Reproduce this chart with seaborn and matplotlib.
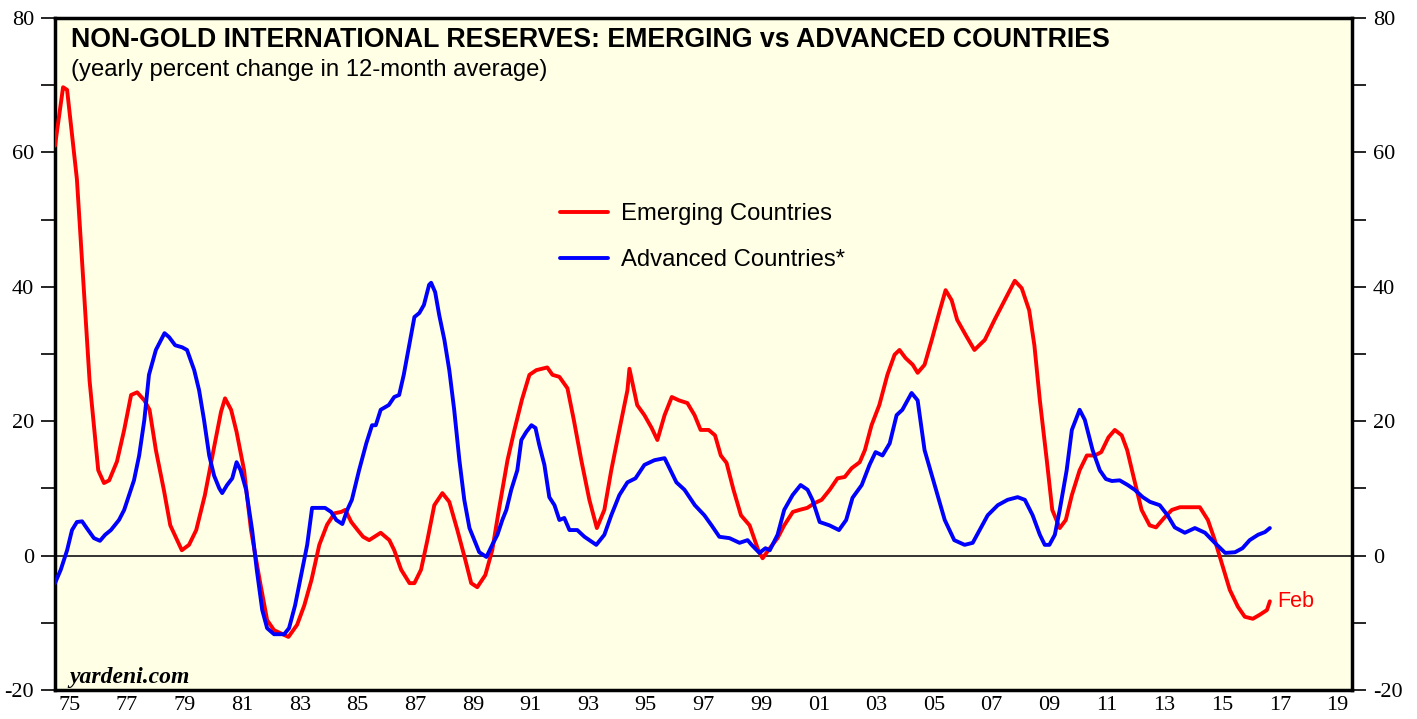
import numpy as np
import pandas as pd
import matplotlib
matplotlib.use("Agg")
import matplotlib.pyplot as plt
import seaborn as sns

# ---- data ----
em_years = [1975.0, 1975.28, 1975.42, 1975.76, 1976.2, 1976.5, 1976.7, 1976.88, 1977.15, 1977.4,
            1977.64, 1977.85, 1978.1, 1978.28, 1978.5, 1978.78, 1979.0, 1979.4, 1979.65, 1979.9,
            1980.2, 1980.5, 1980.76, 1980.9, 1981.11, 1981.3, 1981.56, 1981.8, 1982.1, 1982.36,
            1982.6, 1982.95, 1983.1, 1983.4, 1983.65, 1983.9, 1984.17, 1984.44, 1984.7, 1984.93,
            1985.07, 1985.28, 1985.5, 1985.69, 1985.9, 1986.08, 1986.3, 1986.6, 1986.77, 1987.01,
            1987.3, 1987.47, 1987.7, 1987.92, 1988.16, 1988.44, 1988.68, 1988.96, 1989.24, 1989.44,
            1989.65, 1989.93, 1990.17, 1990.4, 1990.7, 1990.94, 1991.2, 1991.46, 1991.7, 1992.08,
            1992.26, 1992.5, 1992.78, 1993.0, 1993.26, 1993.54, 1993.8, 1994.06, 1994.3, 1994.58,
            1994.86, 1994.93, 1995.2, 1995.45, 1995.7, 1995.9, 1996.15, 1996.4, 1996.65, 1996.94,
            1997.19, 1997.4, 1997.68, 1997.9, 1998.1, 1998.3, 1998.54, 1998.8, 1999.1, 1999.4,
            1999.55, 1999.8, 2000.07, 2000.3, 2000.6, 2000.83, 2001.1, 2001.35, 2001.6, 2001.88,
            2002.15, 2002.4, 2002.64, 2002.92, 2003.1, 2003.33, 2003.6, 2003.88, 2004.13, 2004.3,
            2004.51, 2004.76, 2004.93, 2005.17, 2005.42, 2005.7, 2005.9, 2006.11, 2006.3, 2006.6,
            2006.9, 2007.26, 2007.6, 2007.95, 2008.3, 2008.54, 2008.8, 2008.98, 2009.17, 2009.41,
            2009.6, 2009.86, 2010.07, 2010.28, 2010.55, 2010.8, 2011.08, 2011.3, 2011.55, 2011.77,
            2012.01, 2012.2, 2012.45, 2012.7, 2012.98, 2013.2, 2013.48, 2013.75, 2014.03, 2014.4,
            2014.72, 2015.0, 2015.24, 2015.5, 2015.76, 2016.04, 2016.28, 2016.56, 2016.8, 2017.05,
            2017.15]
em_values = [61.0, 69.7, 69.3, 56.0, 26.0, 12.7, 10.8, 11.2, 14.0, 18.7,
             23.9, 24.3, 23.1, 21.7, 15.7, 9.7, 4.5, 0.8, 1.6, 3.8,
             9.0, 15.7, 21.4, 23.4, 21.7, 18.4, 12.7, 3.8, -3.6, -9.6,
             -11.1, -11.8, -12.1, -10.3, -7.4, -3.6, 1.6, 4.6, 6.3, 6.5,
             6.8, 5.0, 3.8, 2.8, 2.3, 2.8, 3.4, 2.3, 0.8, -2.1,
             -4.1, -4.1, -2.1, 2.3, 7.5, 9.3, 8.0, 3.8, -0.7, -4.1,
             -4.7, -2.9, 0.8, 6.8, 14.2, 18.7, 23.2, 26.9, 27.6, 28.0,
             26.9, 26.6, 24.9, 20.2, 14.2, 8.3, 4.1, 6.8, 12.7, 18.7,
             24.6, 27.8, 22.4, 20.9, 19.0, 17.2, 20.9, 23.6, 23.1, 22.7,
             20.9, 18.7, 18.7, 17.9, 14.9, 13.8, 9.8, 6.0, 4.5, 0.8,
             -0.4, 1.1, 2.6, 4.5, 6.5, 6.8, 7.1, 7.8, 8.3, 9.8,
             11.5, 11.7, 13.0, 13.9, 15.7, 19.4, 22.4, 26.9, 29.9, 30.6,
             29.4, 28.4, 27.2, 28.4, 32.1, 36.5, 39.5, 38.0, 35.1, 32.8,
             30.6, 32.1, 35.1, 38.0, 40.9, 39.8, 36.5, 31.3, 23.1, 14.2,
             6.8, 4.1, 5.3, 9.0, 12.7, 14.9, 14.9, 15.4, 17.6, 18.7,
             17.9, 15.7, 11.2, 6.8, 4.5, 4.2, 5.6, 6.8, 7.2, 7.2,
             7.2, 5.3, 2.3, -1.4, -5.1, -7.6, -9.1, -9.4, -8.8, -8.1,
             -6.8]

adv_years = [1975.0, 1975.2, 1975.42, 1975.59, 1975.76, 1975.94, 1976.1, 1976.35, 1976.56, 1976.74,
             1976.94, 1977.22, 1977.4, 1977.57, 1977.74, 1977.92, 1978.1, 1978.26, 1978.5, 1978.8,
             1978.96, 1979.17, 1979.41, 1979.58, 1979.83, 1980.0, 1980.17, 1980.35, 1980.52, 1980.7,
             1980.8, 1980.97, 1981.15, 1981.3, 1981.44, 1981.63, 1981.84, 1982.0, 1982.19, 1982.36,
             1982.6, 1982.95, 1983.12, 1983.33, 1983.54, 1983.75, 1983.92, 1984.17, 1984.37, 1984.58,
             1984.76, 1984.97, 1985.14, 1985.3, 1985.55, 1985.8, 1986.0, 1986.13, 1986.3, 1986.58,
             1986.77, 1986.94, 1987.1, 1987.29, 1987.47, 1987.64, 1987.8, 1987.98, 1988.05, 1988.19,
             1988.33, 1988.51, 1988.68, 1988.85, 1989.03, 1989.2, 1989.38, 1989.55, 1989.72, 1989.97,
             1990.17, 1990.35, 1990.52, 1990.66, 1990.83, 1991.04, 1991.18, 1991.35, 1991.53, 1991.67,
             1991.8, 1991.98, 1992.15, 1992.33, 1992.5, 1992.67, 1992.85, 1993.12, 1993.37, 1993.54,
             1993.78, 1994.06, 1994.3, 1994.58, 1994.86, 1995.14, 1995.45, 1995.8, 1996.15, 1996.32,
             1996.56, 1996.84, 1997.2, 1997.53, 1997.78, 1998.05, 1998.4, 1998.75, 1999.03, 1999.17,
             1999.44, 1999.65, 1999.8, 2000.07, 2000.3, 2000.59, 2000.87, 2001.11, 2001.28, 2001.53,
             2001.87, 2002.2, 2002.45, 2002.67, 2002.99, 2003.26, 2003.47, 2003.71, 2003.96, 2004.2,
             2004.4, 2004.72, 2004.93, 2005.17, 2005.52, 2005.87, 2006.2, 2006.56, 2006.84, 2007.08,
             2007.36, 2007.71, 2008.05, 2008.4, 2008.65, 2008.92, 2009.17, 2009.34, 2009.5, 2009.69,
             2009.86, 2010.1, 2010.28, 2010.55, 2010.73, 2011.0, 2011.25, 2011.46, 2011.67, 2011.94,
             2012.22, 2012.46, 2012.74, 2012.99, 2013.33, 2013.6, 2013.85, 2014.2, 2014.55, 2014.9,
             2015.24, 2015.6, 2015.94, 2016.2, 2016.45, 2016.74, 2016.98, 2017.15]
adv_values = [-4.1, -2.1, 0.8, 3.8, 5.0, 5.1, 4.1, 2.6, 2.2, 3.1,
              3.8, 5.3, 6.8, 9.0, 11.2, 14.9, 20.2, 26.9, 30.6, 33.1,
              32.5, 31.3, 31.0, 30.6, 27.6, 24.6, 20.2, 14.9, 11.9, 10.0,
              9.3, 10.5, 11.5, 13.9, 12.7, 9.8, 3.8, -2.1, -8.1, -10.8,
              -11.7, -11.7, -10.8, -7.4, -2.9, 1.6, 7.1, 7.1, 7.1, 6.5,
              5.3, 4.7, 6.8, 8.3, 12.7, 16.7, 19.4, 19.4, 21.7, 22.4,
              23.6, 23.9, 26.9, 31.3, 35.5, 36.1, 37.3, 40.3, 40.6, 39.2,
              35.8, 32.1, 27.6, 21.7, 14.2, 8.3, 4.1, 2.3, 0.5, -0.2,
              1.6, 3.1, 5.3, 6.8, 9.8, 12.7, 17.2, 18.4, 19.4, 19.0,
              16.5, 13.5, 8.7, 7.5, 5.3, 5.6, 3.8, 3.8, 2.8, 2.3,
              1.6, 3.1, 6.0, 9.0, 10.9, 11.5, 13.5, 14.2, 14.5, 13.0,
              10.9, 9.8, 7.5, 6.0, 4.5, 2.8, 2.6, 1.9, 2.3, 1.6,
              0.4, 1.1, 0.8, 3.1, 6.8, 9.0, 10.5, 9.8, 8.3, 5.0,
              4.5, 3.8, 5.3, 8.6, 10.5, 13.5, 15.4, 14.9, 16.7, 20.9,
              21.7, 24.2, 23.1, 15.7, 10.5, 5.3, 2.3, 1.6, 1.9, 3.8,
              6.0, 7.5, 8.3, 8.7, 8.3, 6.0, 3.1, 1.6, 1.6, 3.1,
              6.8, 12.7, 18.7, 21.7, 20.2, 15.7, 12.7, 11.4, 11.1, 11.2,
              10.5, 9.8, 8.7, 8.0, 7.5, 6.0, 4.2, 3.4, 4.1, 3.4,
              1.9, 0.4, 0.5, 1.1, 2.3, 3.1, 3.5, 4.1]

series_names = ["Emerging Countries", "Advanced Countries*"]
year_ticks = list(range(1975, 2021))
year_labels = [f"{y % 100:02d}" for y in range(1975, 2020, 2)]
y_ticks = [-20, 0, 20, 40, 60, 80]

df = pd.concat([
    pd.DataFrame({"year": em_years, "value": em_values, "series": series_names[0]}),
    pd.DataFrame({"year": adv_years, "value": adv_values, "series": series_names[1]}),
], ignore_index=True)

sns.set_style("white")
plt.rcParams["font.family"] = ["Liberation Sans", "DejaVu Sans"]
plt.rcParams["axes.unicode_minus"] = False
plt.rcParams["text.color"] = "black"
plt.rcParams["xtick.color"] = "black"
plt.rcParams["ytick.color"] = "black"
plt.rcParams["xtick.labelcolor"] = "black"
plt.rcParams["ytick.labelcolor"] = "black"

fig = plt.figure(figsize=(14.17, 7.19), dpi=100)
ax = fig.add_axes([55 / 1417, 29 / 719, 1297 / 1417, 672 / 719])
ax.set_facecolor("#FFFFE6")

sns.lineplot(data=df, x="year", y="value", hue="series", hue_order=series_names,
             palette={series_names[0]: "#FF0000", series_names[1]: "#0000FF"},
             linewidth=2.8, sort=False, estimator=None, ax=ax, legend=True, zorder=3)

ax.axhline(0, color="#333333", linewidth=1.4, zorder=2)

ax.set_xlim(1975, 2020)
ax.set_ylim(-20, 80)

for s in ax.spines.values():
    s.set_visible(True)
    s.set_color("black")
    s.set_linewidth(2.5)

serif = "Liberation Serif"
# y ticks on both sides
ax.set_yticks(y_ticks)
ax.set_yticks(range(-10, 80, 20), minor=True)
ax.tick_params(axis="y", which="both", direction="out", length=10, width=1.2,
               left=True, right=True, labelleft=True, labelright=True,
               labelsize=16, pad=5, color="black", labelcolor="black")
for lab in ax.yaxis.get_majorticklabels():
    lab.set_fontfamily(serif)

# x ticks: marks at each year, labels centered in odd years
ax.set_xticks(year_ticks)
ax.set_xticklabels([])
ax.set_xticks([y + 0.5 for y in range(1975, 2020, 2)], minor=True)
ax.set_xticklabels(year_labels, minor=True, fontfamily=serif, fontsize=16, color="black")
ax.tick_params(axis="x", which="major", direction="out", length=9, width=2.5, color="black")
ax.tick_params(axis="x", which="minor", length=0, pad=4)
ax.set_xlabel("")
ax.set_ylabel("")

# legend
leg = ax.legend(loc="upper left", bbox_to_anchor=(0.373, 0.756), frameon=False,
                fontsize=17.2, handlelength=2.0, handletextpad=0.55, labelspacing=0.98)
for line in leg.get_lines():
    line.set_linewidth(2.8)
for t in leg.get_texts():
    t.set_color("black")

# titles and annotations
ax.text(0.012, 0.957, "NON-GOLD INTERNATIONAL RESERVES: EMERGING vs ADVANCED COUNTRIES",
        transform=ax.transAxes, fontsize=19.3, fontweight="bold", va="baseline", ha="left",
        color="black")
ax.text(0.012, 0.914, "(yearly percent change in 12-month average)",
        transform=ax.transAxes, fontsize=17.2, va="baseline", ha="left", color="black")
ax.text(em_years[-1] + 0.25, em_values[-1], "Feb", color="#FF0000", fontsize=15.5,
        va="center", ha="left")
ax.text(0.011, 0.011, "yardeni.com", transform=ax.transAxes, fontsize=17,
        fontfamily=serif, fontweight="bold", fontstyle="italic", va="baseline", ha="left",
        color="black")

fig.savefig("out.png", dpi=100, facecolor="white")
